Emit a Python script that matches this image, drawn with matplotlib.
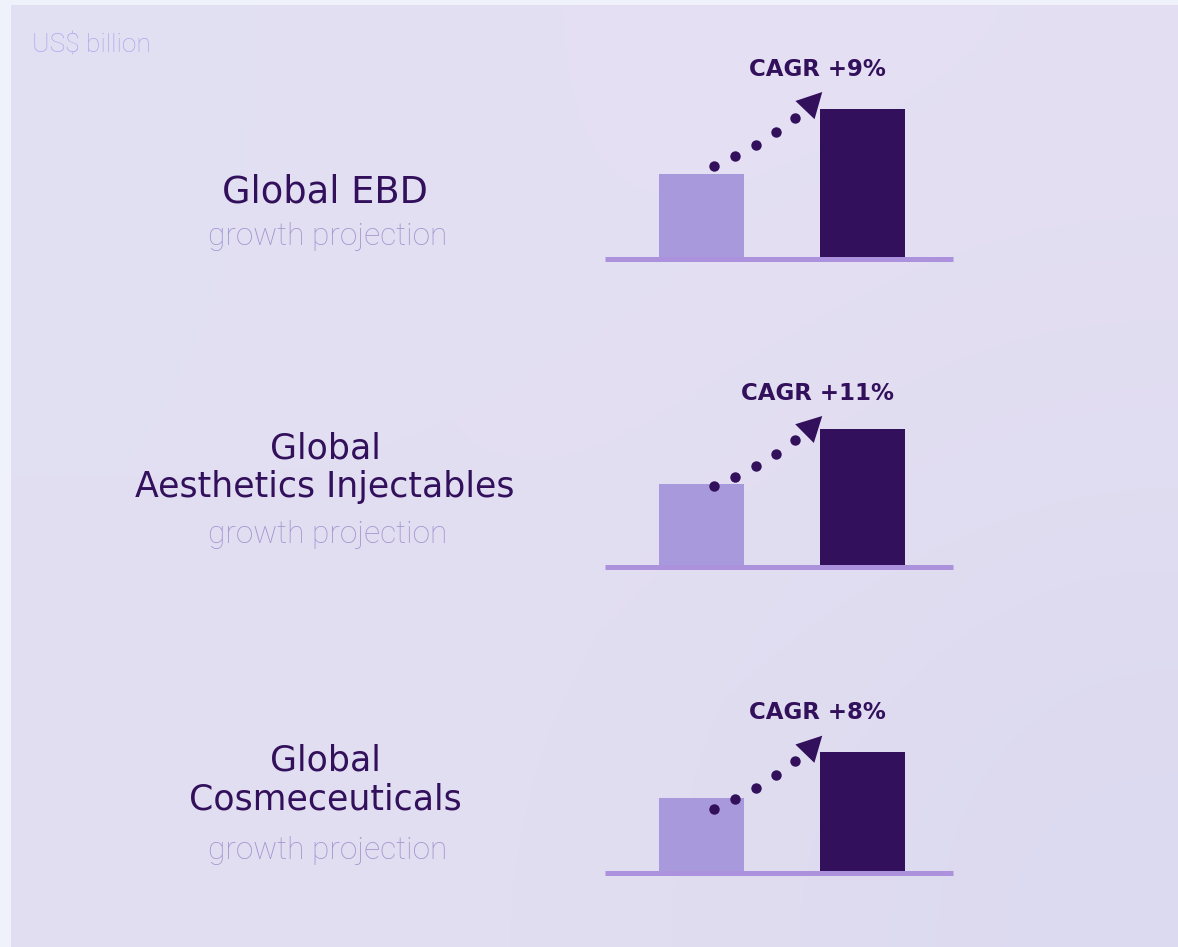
import matplotlib.pyplot as plt
import numpy as np

# market size, US$ billion (today vs projection)
segments = ['Global EBD', 'Global\nAesthetics Injectables', 'Global\nCosmeceuticals']
start_values = [8.5, 8.25, 7.5]
end_values = [15.0, 13.75, 12.1]
cagr_labels = ['CAGR +9%', 'CAGR +11%', 'CAGR +8%']

# where the dotted arrows start / end relative to the bar tops
arrow_start_dy = [0.8, -0.2, -1.1]
arrow_tip_dy = [1.7, 1.3, 1.6]

dark = '#32105b'
light_bar = '#a898dc'
base_col = '#ac92dc'
sub_col = '#a395cf'

W, H = 1178, 947
fig = plt.figure(figsize=(W / 100, H / 100), dpi=100)
fig.patch.set_facecolor('#eff2fb')

# background card with a soft gradient
bg = fig.add_axes([0, 0, 1, 1])
bg.set_xlim(0, W)
bg.set_ylim(H, 0)
bg.axis('off')
grad = np.array([[[0xe1, 0xdf, 0xf2], [0xe5, 0xe0, 0xf3], [0xe4, 0xdf, 0xf2]],
                 [[0xe2, 0xdf, 0xf2], [0xe4, 0xdf, 0xf2], [0xe0, 0xdc, 0xf1]],
                 [[0xe2, 0xdf, 0xf2], [0xe2, 0xde, 0xf1], [0xdc, 0xda, 0xf0]]]) / 255
bg.imshow(grad, extent=(11, W, H, 5), interpolation='bicubic', aspect='auto')

bg.text(32, 45, 'US$ billion', fontsize=19, color='#b3a5ea', family='Roboto',
        fontweight='light', ha='left', va='center')

# pixel rows of the baselines, title positions
baselines = [259, 566.5, 872.7]
title_y = [192, 468, 780]
title_size = [26.5, 25, 25]
sub_y = [236, 534, 850]

px_per_unit = 10.0
ax_left, ax_right = 605, 953
bar_gap = 161.0
first_center = 701.5

for i in range(len(segments)):
    b = baselines[i]
    ax = fig.add_axes([ax_left / W, (H - b) / H, (ax_right - ax_left) / W, 220 / H])
    ax.set_xlim((ax_left - first_center) / bar_gap, (ax_right - first_center) / bar_gap)
    ax.set_ylim(0, 220 / px_per_unit)
    ax.axis('off')

    v0, v1 = start_values[i], end_values[i]
    ax.bar([0, 1], [v0, v1], width=85 / bar_gap, color=[light_bar, dark], zorder=2)
    ax.axhline(0, color=base_col, lw=3.6, zorder=3, clip_on=False, solid_capstyle='butt')

    # dotted curve + arrow head
    p0 = np.array([0.075, v0 + arrow_start_dy[i]])
    p2 = np.array([0.75, v1 + arrow_tip_dy[i]])
    c = p0 + np.array([0.565, 0.33]) * (p2 - p0)
    t = np.linspace(0, 0.72, 5)[:, None]
    pts = (1 - t) ** 2 * p0 + 2 * t * (1 - t) * c + t ** 2 * p2
    ax.plot(pts[:, 0], pts[:, 1], 'o', color=dark, ms=7.5, mew=0, zorder=4, clip_on=False)
    ax.annotate('', xy=p2, xytext=c,
                arrowprops=dict(arrowstyle='-|>,head_length=1.8,head_width=0.95',
                                color=dark, lw=0, shrinkA=0, shrinkB=0, mutation_scale=10),
                zorder=4)

    ax.text(0.72, p2[1] + 2.3, cagr_labels[i], fontsize=16.5, fontweight='bold',
            color=dark, ha='center', va='center')

    bg.text(325, title_y[i], segments[i], fontsize=title_size[i], color=dark,
            ha='center', va='center', linespacing=1.15)
    bg.text(328, sub_y[i], 'growth projection', fontsize=22.8, color=sub_col,
            family='Roboto', fontweight='light', ha='center', va='center')

fig.savefig('out.png', dpi=100, facecolor=fig.get_facecolor())
